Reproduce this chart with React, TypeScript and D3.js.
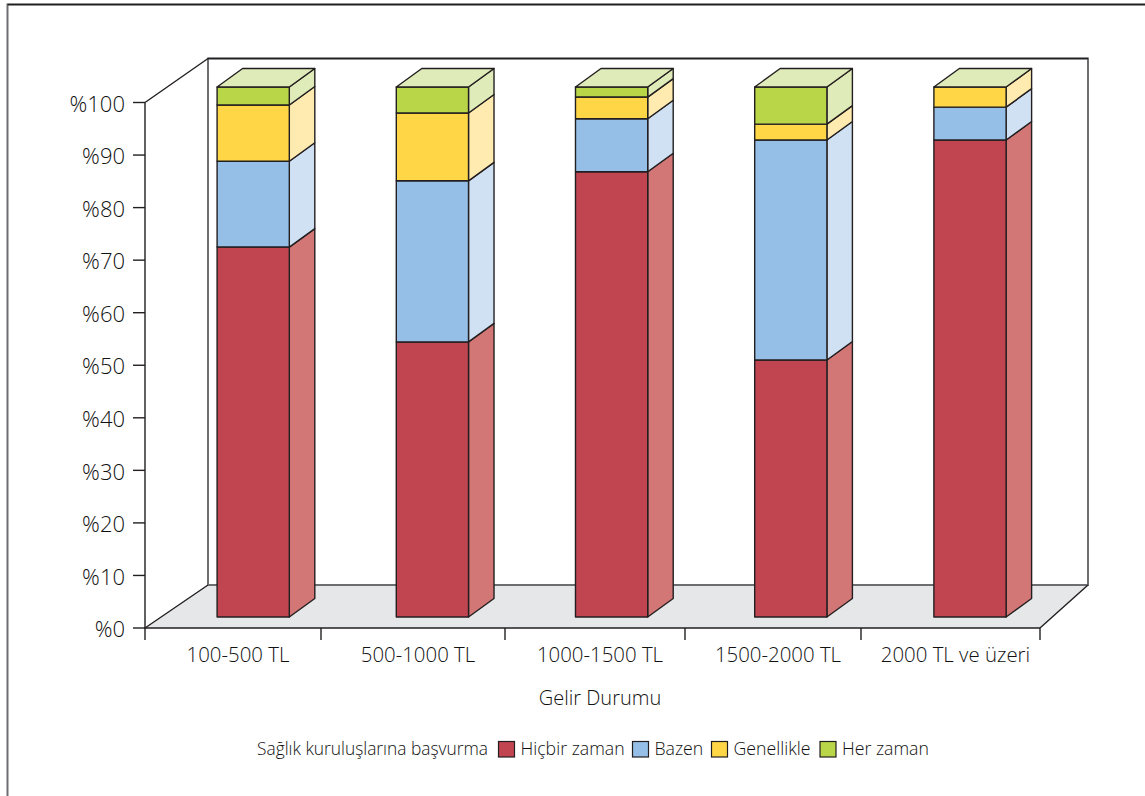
import React from "react";
import * as d3 from "d3";

const categories = ["100-500 TL", "500-1000 TL", "1000-1500 TL", "1500-2000 TL", "2000 TL ve üzeri"];
const seriesNames = ["Hiçbir zaman", "Bazen", "Genellikle", "Her zaman"];
const hicbirZaman = [69.8, 51.9, 84.0, 48.5, 90.0];
const bazen = [16.2, 30.4, 10.0, 41.5, 6.2];
const genellikle = [10.6, 12.8, 4.1, 3.0, 3.8];
const herZaman = [3.4, 4.9, 1.9, 7.0, 0];
const yTicks = [0, 10, 20, 30, 40, 50, 60, 70, 80, 90, 100];
const legendTitle = "Sağlık kuruluşlarına başvurma";
const xTitle = "Gelir Durumu";

const frontColors = ["#c14551", "#95bfe6", "#ffd646", "#b9d548"];
const sideColors = ["#d27676", "#d1e1f4", "#ffebb0", "#dfebb8"];
const topColor = "#dfebb8";
const floorColor = "#e6e7e8";
const ink = "#231f20";
const wallInk = "#6d6e71";
const textInk = "#111111";
const font = "'Open Sans', 'Noto Sans', sans-serif";

// Oblique projection offsets for bar depth
const depthX = 25.5;
const depthY = 18.5;

const rows = categories.map((c, i) => ({
  category: c,
  "Hiçbir zaman": hicbirZaman[i],
  Bazen: bazen[i],
  Genellikle: genellikle[i],
  "Her zaman": herZaman[i],
}));

const stacked = d3.stack<any>().keys(seriesNames)(rows);

const yAxis = d3.scaleLinear().domain([0, 100]).range([628, 102.5]);
const yBar = d3.scaleLinear().domain([0, 100]).range([617, 87]);
const xBand = d3.scaleBand<string>().domain(categories).range([163.6, 1059.6]).paddingInner(0.597).paddingOuter(0.2985);
const xBoundary = d3.scaleLinear().domain([0, 1, 2, 3, 4, 5]).range([145, 321, 505, 685, 861, 1040]);
// Category labels sit slightly right of the middle of each tick interval
const labelX = (i: number) => xBoundary(i + 0.5) + 5;

const poly = (pts: [number, number][]) => (d3.line()(pts) as string) + "Z";

export default function App() {
  const floor = poly([[145, 628], [208, 585], [1088, 585], [1040, 628]]);
  return (
    <svg width={1145} height={796} style={{ position: "absolute", left: 0, top: 0, background: "#fff" }} fontFamily={font} fontWeight={300}>
      {/* Page frame */}
      <path d="M1145,4.5H7.5V796" fill="none" stroke={wallInk} strokeWidth={2} />
      <path d="M1145,4.5H7.5" fill="none" stroke={ink} strokeWidth={1.5} />

      {/* Floor and back walls */}
      <path d={floor} fill={floorColor} />
      <path d="M208,585V58.5H1088V585H208" fill="none" stroke={wallInk} strokeWidth={2} />
      <path d="M208,58.5H1088" fill="none" stroke={ink} strokeWidth={1.4} />
      <path d="M145,628L208,585M1088,585L1040,628M145,102.5L208,58.5" fill="none" stroke={ink} strokeWidth={1.4} />

      {/* Axis lines and ticks */}
      <path d={`M145,${yAxis(100)}V${yAxis(0)}H1040`} fill="none" stroke={ink} strokeWidth={1.4} />
      {yTicks.map((t) => (
        <g key={t}>
          <line x1={133} x2={145} y1={yAxis(t)} y2={yAxis(t)} stroke={ink} strokeWidth={1.4} />
          <text x={125} y={yAxis(t)} dy="0.42em" textAnchor="end" fontSize={22} fill={textInk}>
            %{t}
          </text>
        </g>
      ))}
      {d3.range(6).map((i) => (
        <line key={i} x1={xBoundary(i)} x2={xBoundary(i)} y1={628} y2={640} stroke={ink} strokeWidth={1.4} />
      ))}
      {categories.map((c, i) => (
        <text key={c} x={labelX(i)} y={662} textAnchor="middle" fontSize={20.4} fill={textInk}>
          {c}
        </text>
      ))}
      <text x={600} y={705} textAnchor="middle" fontSize={20} fill={textInk}>
        {xTitle}
      </text>

      {/* Stacked 3D bars */}
      {categories.map((c, i) => {
        const x0 = xBand(c) as number;
        const x1 = x0 + xBand.bandwidth();
        const topY = yBar(100);
        return (
          <g key={c} stroke={ink} strokeWidth={1.4} strokeLinejoin="round">
            {stacked.map((layer, k) => {
              const yLow = yBar(layer[i][0]);
              const yHigh = yBar(layer[i][1]);
              if (layer[i][1] - layer[i][0] <= 0) return null;
              return (
                <g key={k}>
                  <path
                    d={poly([[x1, yLow], [x1 + depthX, yLow - depthY], [x1 + depthX, yHigh - depthY], [x1, yHigh]])}
                    fill={sideColors[k]}
                  />
                  <rect x={x0} y={yHigh} width={x1 - x0} height={yLow - yHigh} fill={frontColors[k]} />
                </g>
              );
            })}
            <path
              d={poly([[x0, topY], [x0 + depthX, topY - depthY], [x1 + depthX, topY - depthY], [x1, topY]])}
              fill={topColor}
            />
          </g>
        );
      })}

      {/* Legend */}
      <text x={257} y={755} fontSize={17.35} fill={textInk}>{legendTitle}</text>
      {seriesNames.map((name, k) => {
        const swatchX = [498.5, 632.5, 711.5, 820][k];
        return (
          <g key={name}>
            <rect x={swatchX} y={741.5} width={16} height={15.5} fill={frontColors[k]} stroke={ink} strokeWidth={1.2} />
            <text x={swatchX + 22} y={755} fontSize={17.7} fill={textInk}>{name}</text>
          </g>
        );
      })}
    </svg>
  );
}
